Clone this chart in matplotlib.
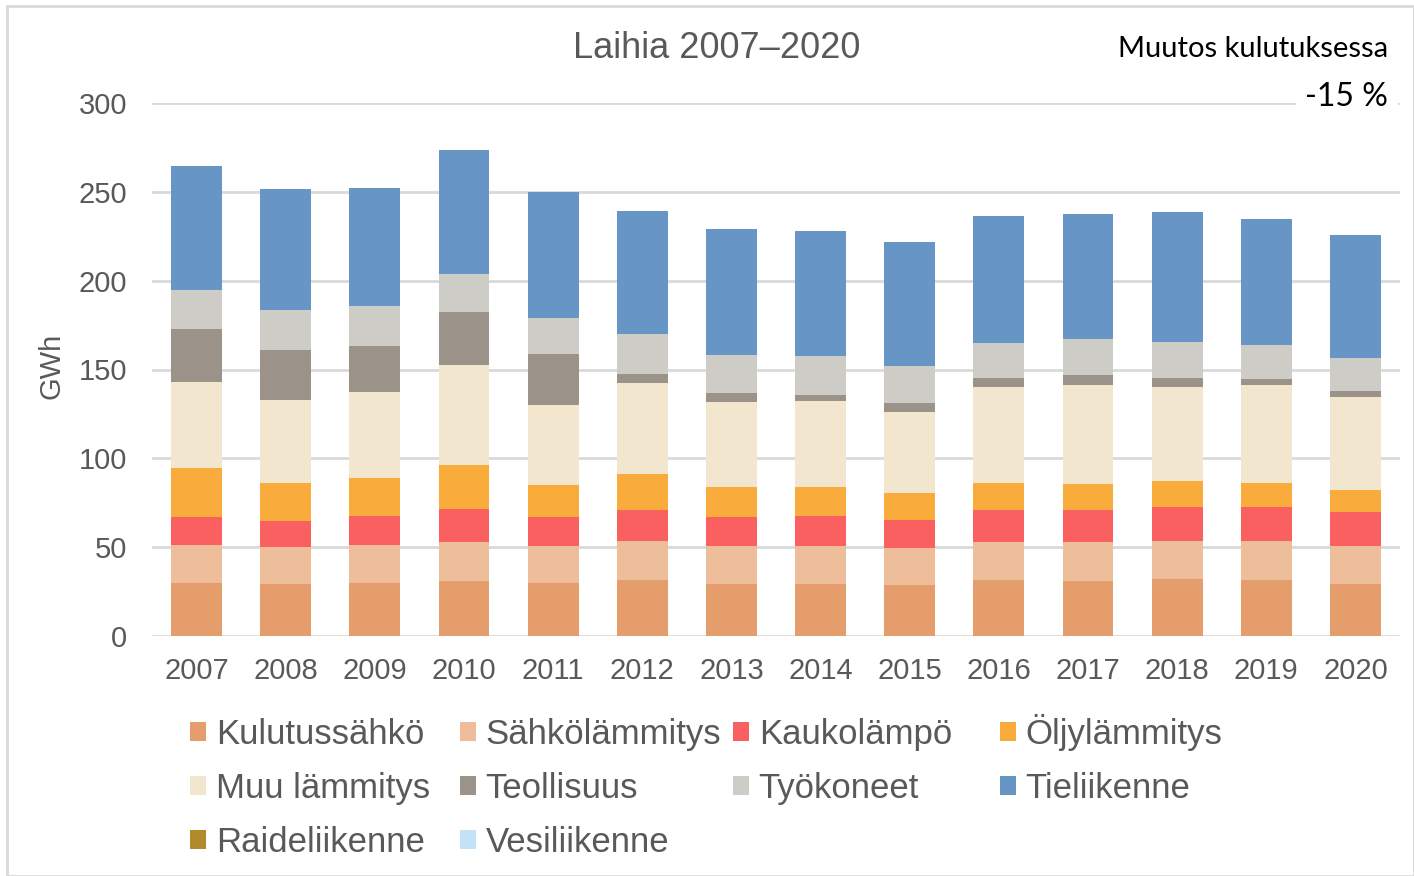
import matplotlib
matplotlib.use('Agg')
from matplotlib import pyplot as plt
from matplotlib.patches import Rectangle
import numpy as np

years = ['2007', '2008', '2009', '2010', '2011', '2012', '2013',
         '2014', '2015', '2016', '2017', '2018', '2019', '2020']

kulutussahko = [30.0, 29.2, 30.0, 30.7, 30.0, 31.5, 29.4, 29.4, 28.7, 31.5, 30.7, 32.2, 31.5, 29.4]
sahkolammitys = [21.5, 21.0, 21.5, 22.3, 20.9, 22.2, 21.5, 21.5, 20.7, 21.5, 22.3, 21.5, 22.2, 21.5]
kaukolampo = [15.4, 14.4, 15.9, 18.7, 16.0, 17.5, 16.0, 16.5, 16.0, 18.2, 18.2, 18.8, 18.8, 18.8]
oljylammitys = [27.9, 21.7, 21.7, 24.6, 17.9, 20.2, 17.2, 16.7, 15.1, 15.1, 14.4, 14.6, 13.8, 12.3]
muu_lammitys = [48.3, 46.7, 48.2, 56.1, 45.3, 50.9, 47.4, 48.1, 45.3, 53.8, 55.4, 53.0, 54.7, 52.5]
teollisuus = [29.6, 28.2, 26.0, 29.8, 28.9, 5.1, 5.0, 3.6, 5.1, 5.2, 5.8, 5.2, 3.6, 3.5]
tyokoneet = [22.2, 22.1, 22.3, 21.4, 20.2, 22.3, 21.7, 21.7, 20.8, 19.5, 20.1, 20.2, 19.4, 18.7]
tieliikenne = [69.5, 68.2, 66.5, 70.2, 70.6, 69.4, 70.8, 70.4, 70.2, 71.5, 70.9, 73.1, 70.8, 68.8]
raideliikenne = [0] * 14
vesiliikenne = [0] * 14

series = [
    ('Kulutussähkö', kulutussahko, '#E59E6B'),
    ('Sähkölämmitys', sahkolammitys, '#EEBE9A'),
    ('Kaukolämpö', kaukolampo, '#FA6060'),
    ('Öljylämmitys', oljylammitys, '#F9AB3B'),
    ('Muu lämmitys', muu_lammitys, '#F2E7CE'),
    ('Teollisuus', teollisuus, '#9B9389'),
    ('Työkoneet', tyokoneet, '#CDCCC7'),
    ('Tieliikenne', tieliikenne, '#6796C6'),
    ('Raideliikenne', raideliikenne, '#B08A2C'),
    ('Vesiliikenne', vesiliikenne, '#C4E2F5'),
]

plt.rcParams['font.family'] = ['Liberation Sans', 'DejaVu Sans']
gray = '#595959'

fig = plt.figure(figsize=(14.14, 8.76), dpi=100)
ax = fig.add_axes([152 / 1414, 1 - 636 / 876, 1248 / 1414, 533 / 876])

x = np.arange(len(years))
bottom = np.zeros(len(years))
handles = []
for name, vals, col in series:
    vals = np.array(vals, dtype=float)
    b = ax.bar(x, vals, 0.57, bottom=bottom, color=col, label=name, zorder=3)
    handles.append(b)
    bottom += vals

ax.set_xlim(-0.5, 13.5)
ax.set_ylim(0, 300)
ax.set_yticks(range(0, 301, 50))
ax.set_xticks(x)
ax.set_xticklabels(years)
ax.tick_params(length=0, labelsize=21, colors=gray)
ax.tick_params(axis='x', pad=15)
ax.tick_params(axis='y', pad=18)
ax.grid(axis='y', color='#D9D9D9', linewidth=2, zorder=0)
for s in ax.spines.values():
    s.set_visible(False)
ax.set_ylabel('GWh', fontsize=21, color=gray)
ax.yaxis.set_label_coords((66 - 152) / 1248, (636 - 366) / 533)

fig.text(717 / 1414, 1 - 48 / 876, 'Laihia 2007–2020', ha='center', va='center',
         fontsize=26, color=gray)
fig.text(1388 / 1414, 1 - 49 / 876, 'Muutos kulutuksessa', ha='right', va='center',
         fontsize=21, color='black', family=['Lato', 'DejaVu Sans'])
fig.text(1388 / 1414, 1 - 97 / 876, '-15 %', ha='right', va='center',
         fontsize=23, color='black', family=['Lato', 'DejaVu Sans'],
         bbox=dict(facecolor='white', edgecolor='none', pad=7))

# Excel puts the legend on a fixed grid: one legend per column
columns = [[0, 4, 8], [1, 5, 9], [2, 6], [3, 7]]
col_x = [190, 460, 733, 1000]
col_top = [718, 718, 718, 714]
for idx, cx, cy in zip(columns, col_x, col_top):
    leg = fig.legend([handles[i] for i in idx], [series[i][0] for i in idx],
                     loc='upper left', bbox_to_anchor=(cx / 1414, 1 - cy / 876),
                     frameon=False, fontsize=25, handlelength=0.46,
                     handleheight=0.46, handletextpad=0.28,
                     labelspacing=0.6, borderpad=0, borderaxespad=0)
    for t in leg.get_texts():
        t.set_color(gray)

fig.patches.append(Rectangle((7 / 1414, 0), 1 - 7 / 1414, 1 - 6 / 876,
                             transform=fig.transFigure, fill=False,
                             edgecolor='#D9D9D9', linewidth=2))

fig.savefig('out.png', dpi=100)
